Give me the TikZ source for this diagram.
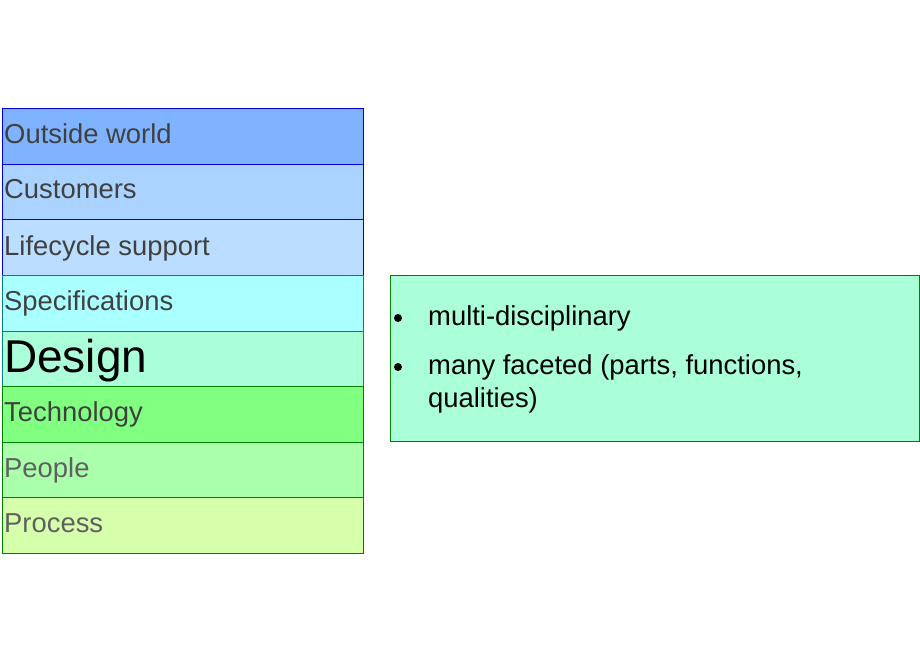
\documentclass[tikz,border=0pt]{standalone}
\usepackage{fontspec}
\setmainfont{Liberation Sans}
\definecolor{cOut}{HTML}{80B3FF}
\definecolor{cCust}{HTML}{AAD4FF}
\definecolor{cLife}{HTML}{BBDDFF}
\definecolor{cSpec}{HTML}{AAFFFF}
\definecolor{cDes}{HTML}{AAFFD8}
\definecolor{cTech}{HTML}{80FF80}
\definecolor{cPeop}{HTML}{AAFFAA}
\definecolor{cProc}{HTML}{D5FFAA}
\definecolor{bBlue}{HTML}{0000E0}
\definecolor{bTeal}{HTML}{008080}
\definecolor{bGreen}{HTML}{008000}
\definecolor{tDark}{HTML}{404040}
\definecolor{tGray}{HTML}{606060}
\begin{document}
\begin{tikzpicture}[x=1pt,y=-1pt,
  rowbox/.style={line width=0.8pt},
  rowtext/.style={anchor=base west,inner sep=0pt,font=\fontsize{27.4}{32}\selectfont},
  bullettext/.style={anchor=base west,inner sep=0pt,font=\fontsize{27.4}{33}\selectfont,align=left}]
\useasboundingbox (0,0) rectangle (920,660);
% stack rows
\fill[cOut] (2,108) rectangle (363,164);
\fill[cCust] (2,164) rectangle (363,219);
\fill[cLife] (2,219) rectangle (363,275);
\fill[cSpec] (2,275) rectangle (363,331);
\fill[cDes] (2,331) rectangle (363,386);
\fill[cTech] (2,386) rectangle (363,442);
\fill[cPeop] (2,442) rectangle (363,497);
\fill[cProc] (2,497) rectangle (363,553);
\draw[rowbox,bBlue] (2,108) rectangle (363,164);
\draw[rowbox,bBlue] (2,164) rectangle (363,219);
\draw[rowbox,bBlue] (2,219) rectangle (363,275);
\draw[rowbox,bTeal] (2,275) rectangle (363,331);
\draw[rowbox,bTeal] (2,331) rectangle (363,386);
\draw[rowbox,bGreen] (2,386) rectangle (363,442);
\draw[rowbox,bGreen] (2,442) rectangle (363,497);
\draw[rowbox,bGreen] (2,497) rectangle (363,553);
\node[rowtext,text=tDark] (tout) at (4,144) {Outside world};
\node[rowtext,text=tDark] (tcust) at (4,199) {Customers};
\node[rowtext,text=tDark] (tlife) at (4,255) {Lifecycle support};
\node[rowtext,text=tDark] (tspec) at (4,310) {Specifications};
\node[rowtext,text=black,font=\fontsize{46}{52}\selectfont] (tdes) at (4,372) {Design};
\node[rowtext,text=tDark] (ttech) at (4,421) {Technology};
\node[rowtext,text=tGray] (tpeop) at (4,477) {People};
\node[rowtext,text=tGray] (tproc) at (4,532) {Process};
% right box
\draw[fill=cDes,draw=bGreen,line width=0.8pt] (390,275) rectangle (919,441);
\fill[black] (398,318) circle[radius=4pt];
\fill[black] (398,367) circle[radius=4pt];
\node[bullettext] (b1) at (428,325) {multi-disciplinary};
\node[bullettext] (b2) at (428,407) {many faceted (parts, functions,\\qualities)};
\end{tikzpicture}
\end{document}
